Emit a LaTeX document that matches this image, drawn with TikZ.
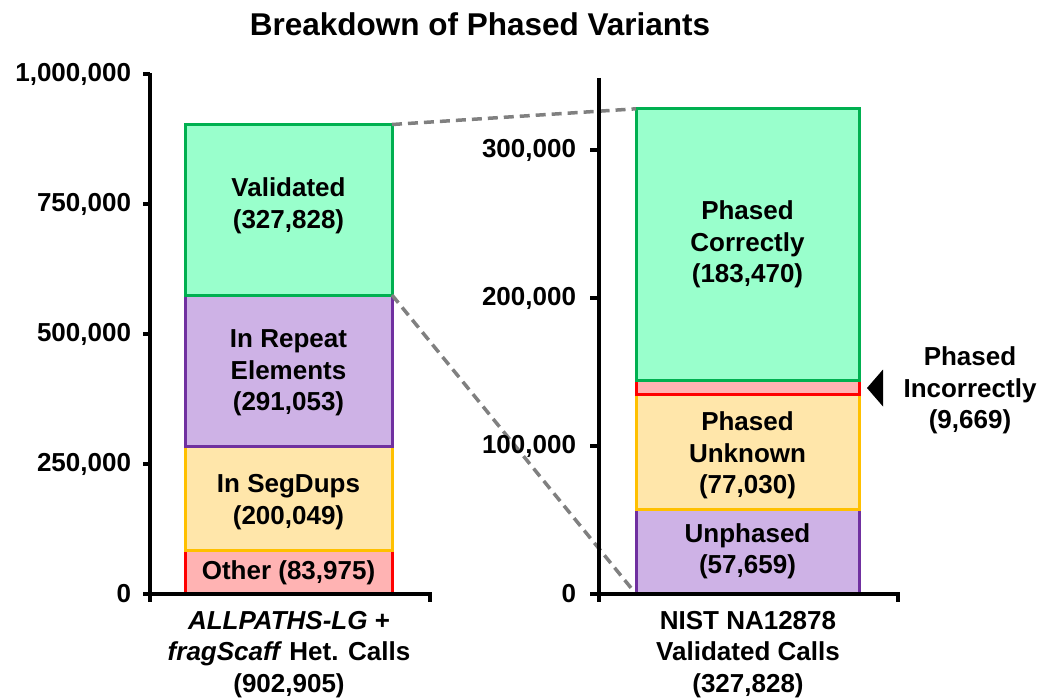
\documentclass[tikz,border=0pt]{standalone}
\usepackage{fontspec}
\setmainfont{Liberation Sans}
\definecolor{grnfill}{RGB}{153,255,204}
\definecolor{grnline}{RGB}{0,176,80}
\definecolor{purfill}{RGB}{206,178,230}
\definecolor{purline}{RGB}{112,48,160}
\definecolor{yelfill}{RGB}{255,230,170}
\definecolor{yelline}{RGB}{255,192,0}
\definecolor{redfill}{RGB}{255,179,179}
\definecolor{redline}{RGB}{255,0,0}
\definecolor{zoomgray}{RGB}{128,128,128}
\begin{document}
\begin{tikzpicture}[x=1pt,y=-1pt,
  every node/.style={font=\bfseries\fontsize{26}{31.5}\selectfont, inner sep=0pt, outer sep=0pt},
  segment/.style={rectangle, line width=3pt},
  green seg/.style={segment, draw=grnline, fill=grnfill},
  purple seg/.style={segment, draw=purline, fill=purfill},
  yellow seg/.style={segment, draw=yelline, fill=yelfill},
  red seg/.style={segment, draw=redline, fill=redfill},
  leftbar/.style={minimum width=207pt},
  rightbar/.style={minimum width=223pt},
  axisline/.style={line width=3.5pt},
  ticklabel/.style={anchor=east},
  barlabel/.style={align=center},
  zoomline/.style={draw=zoomgray, line width=3.5pt, dash pattern=on 10pt off 6pt}
]
\useasboundingbox (0,0) rectangle (1042,698);

% title
\node (title) at (480,24) {\fontsize{31.5}{36}\selectfont Breakdown of Phased Variants};

% left stacked bar (0 at y=594, 0.00052 px per variant)
\node[red seg, leftbar, minimum height=43.7pt]    (lo) at (288.5,572.15) {};
\node[yellow seg, leftbar, minimum height=104pt]  (ls) at (288.5,498.3) {};
\node[purple seg, leftbar, minimum height=151.3pt] (lr) at (288.5,370.65) {};
\node[green seg, leftbar, minimum height=170.5pt] (lv) at (288.5,209.75) {};

% right stacked bar (0 at y=594, 0.00148 px per variant)
\node[purple seg, rightbar, minimum height=84.3pt]  (ru) at (747.5,551.85) {};
\node[yellow seg, rightbar, minimum height=115pt]   (rk) at (747.5,452.2) {};
\node[red seg, rightbar, minimum height=14.4pt]     (ri) at (747.5,387.5) {};
\node[green seg, rightbar, minimum height=271.5pt]  (rc) at (747.5,244.55) {};

% segment labels
\node[barlabel] (tv) at (288.5,206) {Validated\\(327,828)};
\node[barlabel] (tr) at (288.5,373) {In Repeat\\Elements\\(291,053)};
\node[barlabel] (ts) at (288.5,502) {In SegDups\\(200,049)};
\node[barlabel] (to) at (288.5,572.5) {Other (83,975)};
\node[barlabel] (tc) at (747.5,244.5) {Phased\\Correctly\\(183,470)};
\node[barlabel] (tk) at (747.5,455.5) {Phased\\Unknown\\(77,030)};
\node[barlabel] (tu) at (747.5,551.5) {Unphased\\(57,659)};
\node[barlabel] (ti) at (970,390.5) {Phased\\Incorrectly\\(9,669)};

% pointer to the thin segment
\fill (867,388) -- (883,369.5) -- (883,406.5) -- cycle;

% zoom guides between the bars
\draw[zoomline] (lv.north east) -- (rc.north west);
\draw[zoomline] (lr.north east) -- (ru.south west);

% left axis
\draw[axisline] (150,73) -- (150,602);
\draw[axisline] (143,594) -- (430,594) -- (430,602);
\foreach \y in {74,204,334,464} \draw[axisline] (143,\y) -- (150,\y);
\node[ticklabel] (l0)  at (131,594) {0};
\node[ticklabel] (l1)  at (131,464) {250,000};
\node[ticklabel] (l2)  at (131,334) {500,000};
\node[ticklabel] (l3)  at (131,204) {750,000};
\node[ticklabel] (l4)  at (131,74)  {1,000,000};

% right axis
\draw[axisline] (599,78) -- (599,602);
\draw[axisline] (590,594) -- (898,594) -- (898,602);
\foreach \y in {150,298,446} \draw[axisline] (590,\y) -- (599,\y);
\node[ticklabel] (r0) at (576,594) {0};
\node[ticklabel] (r1) at (576,446) {100,000};
\node[ticklabel] (r2) at (576,298) {200,000};
\node[ticklabel] (r3) at (576,150) {300,000};

% category labels
\node[barlabel] (cl) at (289,654.5) {\itshape ALLPATHS-LG\/ \upshape +\\\itshape fragScaff\/ \upshape Het. Calls\\(902,905)};
\node[barlabel] (cr) at (748,654.5) {NIST NA12878\\Validated Calls\\(327,828)};
\end{tikzpicture}
\end{document}
